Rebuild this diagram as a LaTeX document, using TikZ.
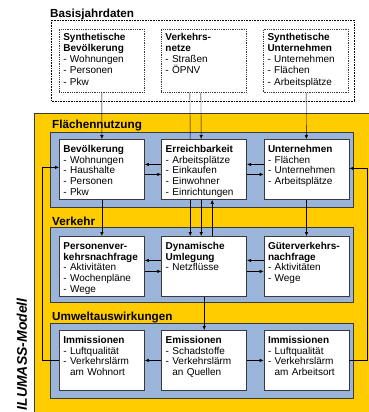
\documentclass[tikz,border=0pt]{standalone}
\usepackage{fontspec}
\setmainfont{Liberation Sans}
\usetikzlibrary{arrows.meta,positioning}
\definecolor{ilyellow}{HTML}{FFCC00}
\definecolor{ilblue}{HTML}{9BB5DA}
\definecolor{ilframe}{HTML}{3A3A3A}

\begin{document}
\begin{tikzpicture}[x=1pt,y=-1pt,>={Latex[length=4pt,width=3.4pt]},
 box/.style={draw=ilframe,fill=white,line width=0.8pt,align=left,anchor=north west,
  text width=77pt,inner xsep=4pt,inner ysep=3pt,text height=10pt,text depth=44pt,
  font=\fontsize{10}{10.7}\selectfont},
 basebox/.style={box,densely dotted,line width=0.6pt,fill=none,text height=8pt,
  text depth=49pt,font=\fontsize{10}{11.2}\selectfont},
 panel/.style={draw=ilframe,fill=ilblue,line width=1pt},
 head/.style={anchor=base west,inner sep=0pt,font=\fontsize{11.7}{12}\selectfont\bfseries}]
\useasboundingbox (0,0) rectangle (369,412);
% background
\fill[ilyellow] (34,113) rectangle (380,420);
\draw[ilframe,line width=0.8pt] (34,420) -- (34,113) -- (380,113);
\draw[densely dotted,line width=0.6pt] (51,20) rectangle (354,101);
\draw[panel] (50,132) rectangle (353,207);
\draw[panel] (50,227) rectangle (353,302);
\draw[panel] (50,323) rectangle (353,398);
\node[head] (hbj) at (50,17.5) {Basisjahrdaten};
\node[head] (hfl) at (52,128) {Flächennutzung};
\node[head] (hvk) at (52,225) {Verkehr};
\node[head] (hum) at (52,320) {Umweltauswirkungen};
\node[rotate=90,anchor=base west,inner sep=0pt,font=\fontsize{14}{14}\selectfont\bfseries\itshape]
 (ilm) at (27,410.5) {ILUMASS-Modell};

% base year data
\node[basebox] (sb) at (59,29) {\textbf{Synthetische}\\\textbf{Bevölkerung}\\- Wohnungen\\- Personen\\- Pkw};
\node[basebox,right=16.5pt of sb] (vn) {\textbf{Verkehrs-}\\\textbf{netze}\\- Straßen\\- ÖPNV};
\node[basebox,right=16.5pt of vn] (su) {\textbf{Synthetische}\\\textbf{Unternehmen}\\- Unternehmen\\- Flächen\\- Arbeitsplätze};

% land use
\node[box] (bev) at (59,139) {\textbf{Bevölkerung}\\- Wohnungen\\- Haushalte\\- Personen\\- Pkw};
\node[box,right=16.5pt of bev] (err) {\textbf{Erreichbarkeit}\\- Arbeitsplätze\\- Einkaufen\\- Einwohner\\- Einrichtungen};
\node[box,right=16.5pt of err] (unt) {\textbf{Unternehmen}\\- Flächen\\- Unternehmen\\- Arbeitsplätze};

% transport
\node[box] (pvn) at (59,236) {\textbf{Personenver-}\\\textbf{kehrsnachfrage}\\- Aktivitäten\\- Wochenpläne\\- Wege};
\node[box,right=16.5pt of pvn] (dyn) {\textbf{Dynamische}\\\textbf{Umlegung}\\- Netzflüsse};
\node[box,right=16.5pt of dyn] (gvn) {\textbf{Güterverkehrs-}\\\textbf{nachfrage}\\- Aktivitäten\\- Wege};

% environment
\node[box] (imw) at (59,330) {\textbf{Immissionen}\\- Luftqualität\\- Verkehrslärm\\\hphantom{- }am Wohnort};
\node[box,right=16.5pt of imw] (emi) {\textbf{Emissionen}\\- Schadstoffe\\- Verkehrslärm\\\hphantom{- }an Quellen};
\node[box,right=16.5pt of emi] (ima) {\textbf{Immissionen}\\- Luftqualität\\- Verkehrslärm\\\hphantom{- }am Arbeitsort};

% links
\draw[->] (sb) -- (bev);
\draw[->] (su) -- (unt);
\draw ([xshift=-14pt]vn.south) -- ([xshift=-14pt]err.north);
\draw[->] ([xshift=-14pt]err.south) -- ([xshift=-14pt]dyn.north);
\draw[->] ([xshift=-3pt]vn.south) -- ([xshift=-3pt]err.north);
\draw[->] ([xshift=-3pt]err.south) -- ([xshift=-3pt]dyn.north);
\draw[->] ([xshift=8pt]dyn.north) -- ([xshift=8pt]err.south);
\draw[->] (bev) -- (pvn);
\draw[->] (unt) -- (gvn);
\draw[->] (dyn) -- (emi);
\draw[->] ([yshift=5pt]err.west) -- ([yshift=5pt]bev.east);
\draw[->] ([yshift=-5pt]bev.east) -- ([yshift=-5pt]err.west);
\draw[->] ([yshift=5pt]unt.west) -- ([yshift=5pt]err.east);
\draw[->] ([yshift=-5pt]err.east) -- ([yshift=-5pt]unt.west);
\draw[->] ([yshift=6pt]dyn.west) -- ([yshift=6pt]pvn.east);
\draw[->] ([yshift=-5pt]pvn.east) -- ([yshift=-5pt]dyn.west);
\draw[->] ([yshift=6pt]gvn.west) -- ([yshift=6pt]dyn.east);
\draw[->] ([yshift=-5pt]dyn.east) -- ([yshift=-5pt]gvn.west);
\draw[->] (emi) -- (imw);
\draw[->] (emi) -- (ima);
\draw[->] (imw.west) -- ++(-17pt,0) |- ([yshift=2pt]bev.west);
\draw[->] (ima.east) -- ++(18pt,0) |- ([yshift=1pt]unt.east);
\end{tikzpicture}
\end{document}
